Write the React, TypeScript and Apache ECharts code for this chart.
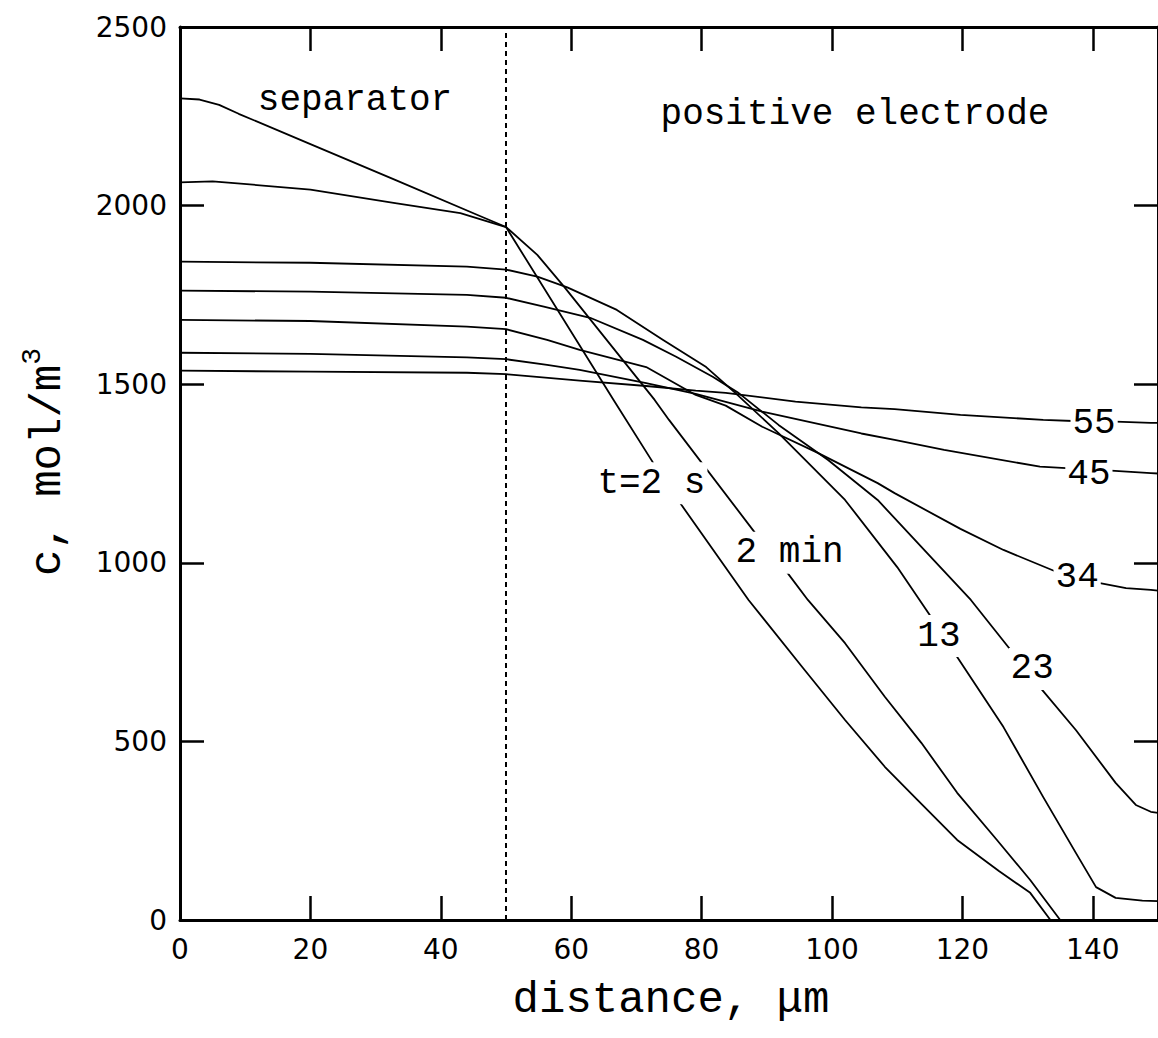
import React, { useEffect, useRef } from "react";
import * as echarts from "echarts";

// distance (µm) and concentration (mol/m3)
const X_T2S = [0, 3, 6, 9, 20, 33, 46, 50, 66.5, 72.6, 76.6, 87.2, 95.4, 102, 108.1, 113.1, 119.2, 125.6, 130.4, 133.5];
const C_T2S = [2300, 2297, 2282, 2257, 2172, 2072, 1971, 1940, 1456, 1279, 1170, 896, 709, 560, 429, 336, 224, 137, 76, 0];

const X_2MIN = [0, 5, 20, 33, 43, 50, 54.8, 58.9, 72.8, 75, 88.7, 93.2, 96.3, 102, 108.1, 113.7, 119.2, 125.3, 130.4, 135];
const C_2MIN = [2065, 2068, 2045, 2007, 1979, 1940, 1862, 1773, 1456, 1400, 1072, 971, 896, 775, 625, 496, 356, 224, 112, 0];

const X_13 = [0, 20, 44, 50, 54.8, 59.4, 67, 74.1, 80.7, 85.2, 91.8, 102, 110, 115.2, 119.2, 126.3, 132.4, 137.4, 140.5, 143.5, 147.6, 150];
const C_13 = [1843, 1840, 1829, 1821, 1801, 1771, 1708, 1624, 1548, 1475, 1363, 1176, 988, 848, 736, 540, 344, 188, 92, 62, 54, 53];

const X_23 = [0, 20, 44, 50, 55.8, 62.9, 71, 76.1, 81.7, 85.7, 91.8, 99.4, 107, 114.6, 121.3, 127.4, 132.1, 137.4, 143.5, 146.6, 148.9, 150];
const C_23 = [1762, 1759, 1750, 1742, 1717, 1686, 1624, 1577, 1521, 1475, 1386, 1288, 1176, 1027, 896, 756, 647, 532, 384, 322, 303, 300];

const X_34 = [0, 20, 44, 50, 56.3, 61.3, 71.5, 79.1, 83.7, 89.3, 97.9, 107, 109.6, 119.7, 126.3, 134.4, 141.1, 145.1, 148.9, 150];
const C_34 = [1680, 1677, 1661, 1654, 1624, 1596, 1548, 1470, 1440, 1381, 1307, 1223, 1195, 1095, 1036, 975, 943, 929, 924, 922];

const X_45 = [0, 20, 44, 50, 56.3, 61.3, 71.5, 79.1, 89.3, 104.5, 109.6, 117.2, 131.9, 135.9, 142.8, 148.9, 150];
const C_45 = [1588, 1585, 1575, 1570, 1554, 1540, 1503, 1473, 1423, 1362, 1344, 1316, 1269, 1265, 1258, 1251, 1250];

const X_55 = [0, 20, 44, 50, 61.3, 71.5, 79.1, 83.7, 94.4, 104.5, 109.6, 119.7, 132.4, 137, 143.5, 148.9, 150];
const C_55 = [1538, 1535, 1532, 1528, 1510, 1495, 1482, 1476, 1451, 1435, 1430, 1414, 1400, 1397, 1395, 1392, 1392];

// curve labels placed on the curves (data coordinates)
const LABEL_TEXTS = ["t=2 s", "2 min", "13", "23", "34", "45", "55"];
const LABEL_X = [72.3, 93.5, 116.4, 130.7, 137.6, 139.4, 140.2];
const LABEL_Y = [1223, 1028, 795, 703, 960, 1246, 1389];

const SEPARATOR_X = 50;
const X_MIN = 0, X_MAX = 150, X_STEP = 20;
const Y_MIN = 0, Y_MAX = 2500, Y_STEP = 500;

const CURVES = [
  { name: "t=2 s", x: X_T2S, y: C_T2S },
  { name: "2 min", x: X_2MIN, y: C_2MIN },
  { name: "13", x: X_13, y: C_13 },
  { name: "23", x: X_23, y: C_23 },
  { name: "34", x: X_34, y: C_34 },
  { name: "45", x: X_45, y: C_45 },
  { name: "55", x: X_55, y: C_55 },
];

const MONO = '"Liberation Mono", "Courier New", monospace';
const SANS = '"DejaVu Sans", sans-serif';

function textEl(x: number, y: number, text: string, size: number, extra: any = {}) {
  return {
    type: "text", x, y, silent: true, z: 100,
    style: {
      text, fontFamily: MONO, fontSize: size, fill: "#000",
      align: "center", verticalAlign: "middle", textAlign: "center", textVerticalAlign: "middle",
      ...extra,
    },
  };
}

export default function App() {
  const ref = useRef<HTMLDivElement>(null);
  useEffect(() => {
    if (!ref.current) return;
    const chart = echarts.init(ref.current, null, { renderer: "svg" });
    const axisLine = { show: true, onZero: false, lineStyle: { color: "#000", width: 3 } };
    const axisTick = { show: true, inside: true, length: 24, lineStyle: { color: "#000", width: 2.5 } };
    const xLabelFmt = (v: number) => (v % X_STEP === 0 && v < X_MAX ? String(v) : "");
    const yLabelFmt = (v: number) => String(v);
    const lineSeries: any[] = CURVES.map((c, k) => ({
      type: "line",
      name: c.name,
      data: c.x.map((x, i) => [x, c.y[i]]),
      showSymbol: false,
      symbol: "none",
      smooth: false,
      lineStyle: { color: "#000", width: 1.8, join: "round" },
      z: 2,
      silent: true,
      markLine:
        k === 0
          ? {
              silent: true,
              symbol: ["none", "none"],
              label: { show: false },
              lineStyle: { color: "#000", width: 2, type: [5, 4] },
              data: [{ xAxis: SEPARATOR_X }],
            }
          : undefined,
    }));
    const baseGraphic: any[] = [
      textEl(355, 100, "separator", 36),
      textEl(855, 114, "positive electrode", 36),
      textEl(671, 1000, "distance, \u03bcm", 44),
      {
        type: "text", x: 44, y: 462, rotation: Math.PI / 2, silent: true,
        style: {
          text: "{a|c, mol/m}{b|3}",
          fill: "#000",
          align: "center", verticalAlign: "middle", textAlign: "center", textVerticalAlign: "middle",
          rich: {
            a: { fontFamily: MONO, fontSize: 44, lineHeight: 52, verticalAlign: "bottom", fill: "#000" },
            b: { fontFamily: MONO, fontSize: 28, lineHeight: 52, verticalAlign: "top", fill: "#000" },
          },
        },
      },
    ];
    chart.setOption({
      animation: false,
      backgroundColor: "#fff",
      grid: { left: 180, top: 27, width: 986, height: 893, containLabel: false },
      xAxis: [
        {
          type: "value", position: "bottom", min: X_MIN, max: X_MAX, interval: X_STEP,
          axisLine, axisTick, splitLine: { show: false },
          axisLabel: { show: true, formatter: xLabelFmt, showMaxLabel: false, fontFamily: SANS, fontSize: 28, color: "#000", margin: 15 },
        },
        {
          type: "value", position: "top", min: X_MIN, max: X_MAX, interval: X_STEP,
          axisLine, axisTick, splitLine: { show: false }, axisLabel: { show: false },
        },
      ],
      yAxis: [
        {
          type: "value", position: "left", min: Y_MIN, max: Y_MAX, interval: Y_STEP,
          axisLine, axisTick, splitLine: { show: false },
          axisLabel: { show: true, formatter: yLabelFmt, fontFamily: SANS, fontSize: 28, color: "#000", margin: 13 },
        },
        {
          type: "value", position: "right", min: Y_MIN, max: Y_MAX, interval: Y_STEP,
          axisLine, axisTick, splitLine: { show: false }, axisLabel: { show: false },
        },
      ],
      graphic: baseGraphic,
      series: lineSeries,
    });
    // curve labels: positions from the chart's own scales
    const labelGraphic = LABEL_TEXTS.map((t, i) => {
      const p = chart.convertToPixel({ xAxisIndex: 0, yAxisIndex: 0 }, [LABEL_X[i], LABEL_Y[i]]) as number[];
      return textEl(p[0], p[1], t, 36, { backgroundColor: "#fff", padding: [3, 2] });
    });
    chart.setOption({ graphic: [...baseGraphic, ...labelGraphic] }, { replaceMerge: ["graphic"] });
    return () => chart.dispose();
  }, []);
  return (
    <div
      ref={ref}
      style={{ position: "fixed", left: 0, top: 0, width: 1158, height: 1038, background: "#fff" }}
    />
  );
}
